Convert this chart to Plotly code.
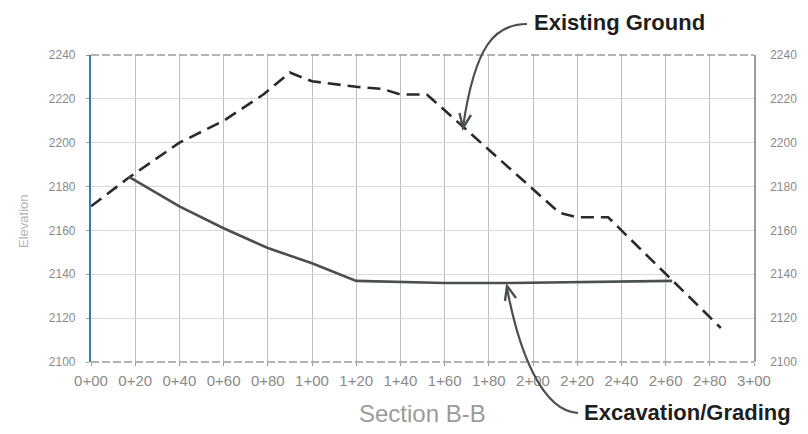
import plotly.graph_objects as go

# ---- data (station in feet, elevation) ----
ground_station = [0, 17, 40, 60, 78, 90, 100, 120, 132, 140, 152, 212, 220, 234, 285]
ground_elev = [2171, 2184, 2200, 2210, 2222, 2232, 2228, 2225.5, 2224.5, 2222, 2222, 2168, 2166, 2166, 2115.5]

grading_station = [17, 40, 60, 80, 100, 120, 160, 190, 263]
grading_elev = [2184.5, 2171, 2161, 2152, 2145, 2137, 2136, 2136, 2137]

x_tick_vals = [0, 20, 40, 60, 80, 100, 120, 140, 160, 180, 200, 220, 240, 260, 280, 300]
x_tick_text = ["0+00", "0+20", "0+40", "0+60", "0+80", "1+00", "1+20", "1+40",
               "1+60", "1+80", "2+00", "2+20", "2+40", "2+60", "2+80", "3+00"]
y_tick_vals = [2100, 2120, 2140, 2160, 2180, 2200, 2220, 2240]

W, H = 808, 434
# plot area in page pixels
L, R, T, B = 91, 754, 55, 362


def px(x):
    return (x - L) / (R - L)


def py(y):
    return (B - y) / (B - T)


fig = go.Figure()
fig.add_trace(go.Scatter(x=ground_station, y=ground_elev, mode="lines",
                         line=dict(color="#2a2a2a", width=2.6, dash="13px,7px"),
                         name="Existing Ground", hoverinfo="skip"))
fig.add_trace(go.Scatter(x=grading_station, y=grading_elev, mode="lines",
                         line=dict(color="#4a504c", width=2.6),
                         name="Excavation/Grading", hoverinfo="skip"))
# invisible trace to activate right-hand axis
fig.add_trace(go.Scatter(x=ground_station, y=ground_elev, yaxis="y2", mode="lines",
                         line=dict(color="rgba(0,0,0,0)"), hoverinfo="skip", showlegend=False))

tick_font = dict(family="Liberation Sans, Arial, sans-serif", size=12, color="#8a8a8a")

fig.update_layout(
    width=W, height=H,
    margin=dict(l=L, r=W - R, t=T, b=H - B, autoexpand=False),
    paper_bgcolor="white", plot_bgcolor="white",
    showlegend=False,
    xaxis=dict(range=[0, 300], tickvals=x_tick_vals, ticktext=x_tick_text,
               showgrid=True, gridcolor="#bdbdbd", gridwidth=1,
               showline=False, zeroline=False,
               ticks="outside", ticklen=3, tickcolor="#999999",
               ticklabelstandoff=2,
               tickfont=dict(family="Liberation Sans, Arial, sans-serif", size=15, color="#8a8a8a")),
    yaxis=dict(range=[2100, 2240], tickvals=y_tick_vals,
               showgrid=True, gridcolor="#dadada", gridwidth=1,
               showline=True, linecolor="#3a7fa3", linewidth=2.2, zeroline=False,
               ticks="outside", ticklen=3, tickcolor="#999999",
               ticklabelstandoff=8, tickfont=tick_font),
    yaxis2=dict(range=[2100, 2240], tickvals=y_tick_vals, overlaying="y", side="right",
                showgrid=False, showline=True, linecolor="#9a9a9a", linewidth=1.5,
                zeroline=False, ticks="", ticklabelstandoff=12, tickfont=tick_font),
)

# top and bottom frame lines (dashed gray)
for yy in (0, 1):
    fig.add_shape(type="line", xref="paper", yref="paper", x0=0, x1=1, y0=yy, y1=yy,
                  line=dict(color="#9a9a9a", width=1.3, dash="8px,3px"))


def note(text, x, y, size, color, angle=0, family="Liberation Sans, Arial, sans-serif"):
    fig.add_annotation(text=text, xref="paper", yref="paper", x=px(x), y=py(y),
                       xanchor="center", yanchor="middle", showarrow=False, textangle=angle,
                       font=dict(family=family, size=size, color=color))


note("Elevation", 23, 222, 13, "#b4b4b4", angle=-90)
note("Section B-B", 422, 413, 24, "#9a9c98")
note("<b>Existing Ground</b>", 619, 23, 22, "#1e1e1e")
note("<b>Excavation/Grading</b>", 687, 412, 22, "#1e1e1e")

arrow_col = "#4a504c"


def p(x, y):
    return f"{px(x):.5f},{py(y):.5f}"


# Existing ground arrow (curved)
fig.add_shape(type="path", xref="paper", yref="paper",
              path=f"M {p(527,24)} C {p(495,24)} {p(475,45)} {p(463,127)}",
              line=dict(color=arrow_col, width=2.2))
fig.add_shape(type="path", xref="paper", yref="paper",
              path=f"M {p(459.5,113)} L {p(463,128)} L {p(471,115)}",
              line=dict(color=arrow_col, width=2.4))

# Excavation arrow (curved)
fig.add_shape(type="path", xref="paper", yref="paper",
              path=f"M {p(578,413)} C {p(542,411)} {p(519,352)} {p(507,288)}",
              line=dict(color=arrow_col, width=2.2))
fig.add_shape(type="path", xref="paper", yref="paper",
              path=f"M {p(505,301)} L {p(507,286)} L {p(516,298)}",
              line=dict(color=arrow_col, width=2.4))

fig.write_html("out.html",
               config={"displayModeBar": False},
               post_script="document.body.style.margin='0';document.body.style.overflow='hidden';")
